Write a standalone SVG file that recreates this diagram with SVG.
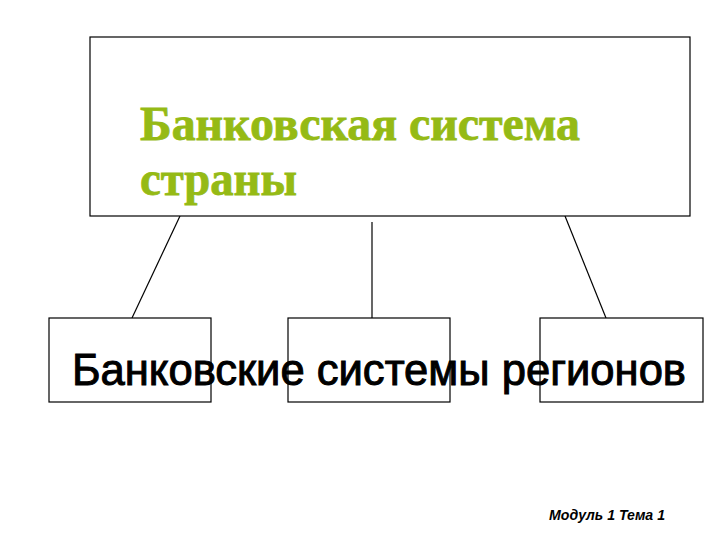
<svg xmlns="http://www.w3.org/2000/svg" width="720" height="540" viewBox="0 0 720 540">
<style>
.box{fill:#fff;stroke:#000;stroke-width:1.2}
.con{stroke:#000;stroke-width:1.2;fill:none}
.title{font-family:"Liberation Serif",serif;font-weight:bold;font-size:48px;fill:#95BA15;stroke:#95BA15;stroke-width:0.8}
.sub{font-family:"Liberation Sans",sans-serif;font-size:44px;fill:#000;stroke:#000;stroke-width:1}
.foot{font-family:"Liberation Sans",sans-serif;font-style:italic;font-weight:bold;font-size:14px;fill:#000}
</style>
<rect width="720" height="540" fill="#fff"/>
<g id="connectors">
<line class="con" x1="180" y1="216" x2="132" y2="318"/>
<line class="con" x1="372" y1="222" x2="372" y2="318"/>
<line class="con" x1="565" y1="216" x2="606" y2="318"/>
</g>
<g id="top">
<rect class="box" x="90" y="37" width="600" height="179"/>
<text class="title" x="140" y="140" textLength="440" lengthAdjust="spacingAndGlyphs">Банковская система</text>
<text class="title" x="140" y="195" textLength="157" lengthAdjust="spacingAndGlyphs">страны</text>
</g>
<g id="region1"><rect class="box" x="49" y="318" width="162" height="84"/></g>
<g id="region2"><rect class="box" x="288" y="318" width="162" height="84"/></g>
<g id="region3"><rect class="box" x="540" y="318" width="163" height="84"/></g>
<text class="sub" x="72" y="385" textLength="614" lengthAdjust="spacingAndGlyphs">Банковские системы регионов</text>
<text class="foot" x="549" y="520" textLength="116" lengthAdjust="spacingAndGlyphs">Модуль 1 Тема 1</text>
</svg>
